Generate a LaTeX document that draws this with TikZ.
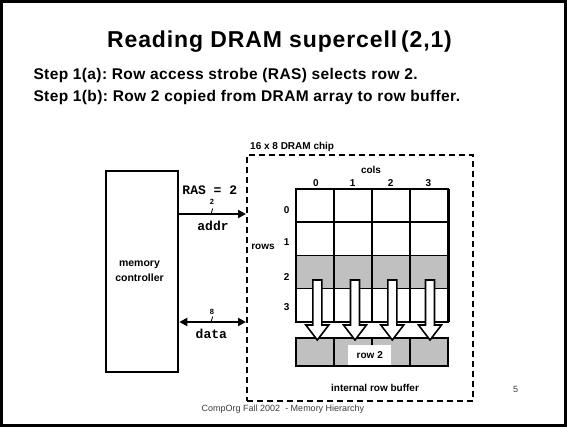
\documentclass[tikz,border=0pt]{standalone}
\usepackage{fontspec}
\setmainfont{Liberation Sans}
\newfontfamily\monof{Liberation Mono}
\newfontfamily\titlef{Liberation Sans}[LetterSpace=3.8]
\newfontfamily\stepf{Liberation Sans}[LetterSpace=2.5]
\usetikzlibrary{arrows.meta}
\definecolor{cellgray}{RGB}{192,192,192}
\definecolor{footgray}{RGB}{60,60,60}
\frenchspacing
\begin{document}
\begin{tikzpicture}[x=1pt,y=-1pt,
  lbl/.style={font=\fontsize{10}{12}\selectfont\bfseries, inner sep=0pt},
  monolbl/.style={font=\fontsize{13}{15}\selectfont\monof\bfseries, inner sep=0pt},
  tiny/.style={font=\fontsize{7.5}{8}\selectfont\bfseries, inner sep=0pt},
  steptext/.style={anchor=base west, inner sep=0pt, font=\fontsize{15.5}{18}\selectfont\stepf\bfseries},
  cell/.style={draw, line width=1.5pt, minimum width=38pt, minimum height=33.25pt, inner sep=0pt, outer sep=0pt},
  bufcell/.style={draw, line width=1.5pt, minimum width=38pt, minimum height=28pt, inner sep=0pt, outer sep=0pt, fill=cellgray},
  bus/.style={line width=2pt, -{Triangle[length=8pt,width=8pt]}},
  bibus/.style={line width=2pt, {Triangle[length=8pt,width=8pt]}-{Triangle[length=8pt,width=8pt]}},
  hollow/.style={line width=1.6pt, fill=white, line join=miter},
]
\useasboundingbox (0,0) rectangle (567,427);
\draw[line width=2.6pt] (1.6,1.8) rectangle (565.5,425.5);

% title and steps
\node[anchor=base, inner sep=0pt, font=\fontsize{23}{26}\selectfont\titlef\bfseries] (title) at (279.5,47.3) {Reading DRAM supercell\,(2,1)};
\node[steptext] (stepa) at (33.3,80) {Step 1(a): Row access strobe (RAS) selects row 2.};
\node[steptext] (stepb) at (33.3,101.3) {Step 1(b): Row 2 copied from DRAM array to row buffer.};

% memory controller
\node[draw, line width=2pt, minimum width=72.6pt, minimum height=201pt, inner sep=0pt] (ctrl) at (142,271.5) {};
\node[lbl, align=center, font=\fontsize{10.5}{15}\selectfont\bfseries] (ctrltext) at (139.5,271.5) {memory\\controller};

% chip
\node[draw, line width=2pt, dash pattern=on 6pt off 4pt, minimum width=226pt, minimum height=246pt, inner sep=0pt] (chip) at (360,278) {};
\node[lbl, anchor=base west] (chiplbl) at (250,150) {16 x 8 DRAM chip};

% grid cells
\foreach \r in {0,1,2,3}{
  \foreach \c in {0,1,2,3}{
    \pgfmathsetmacro{\cx}{315+38*\c}
    \pgfmathsetmacro{\cy}{205.6+33.25*\r}
    \ifnum\r=2
      \node[cell, fill=cellgray] (c\r\c) at (\cx,\cy) {};
    \else
      \node[cell] (c\r\c) at (\cx,\cy) {};
    \fi
  }
}
\draw[line width=3pt] (c03.north east) -- (c33.south east);

% labels of grid
\node[lbl] (cols) at (371,170) {cols};
\node[lbl] (k0) at (316,183) {0};
\node[lbl] (k1) at (352.7,183) {1};
\node[lbl] (k2) at (390.7,183) {2};
\node[lbl] (k3) at (428.3,183) {3};
\node[lbl] (r0) at (286.7,210) {0};
\node[lbl] (r1) at (286.7,241.7) {1};
\node[lbl] (r2) at (286.7,276.7) {2};
\node[lbl] (r3) at (286.7,306.7) {3};
\node[lbl] (rows) at (263,247.3) {rows};

% row buffer
\foreach \c in {0,1,2,3}{
  \pgfmathsetmacro{\cx}{315+38*\c}
  \node[bufcell] (b\c) at (\cx,352) {};
}
\node[fill=white, minimum width=43pt, minimum height=20pt, inner sep=0pt, font=\fontsize{10}{12}\selectfont\bfseries] (row2) at (369.8,355) {row 2};
\node[lbl] (bufl) at (375,387.7) {internal row buffer};

% hollow arrows
\foreach \x in {317.3,355,392.3,430}{
  \draw[hollow] (\x-4.5,280) -- (\x+4.5,280) -- (\x+4.5,325) -- (\x+11.5,325) -- (\x,340) -- (\x-11.5,325) -- (\x-4.5,325) -- cycle;
}

% buses
\coordinate (addry) at (0,214);
\coordinate (datay) at (0,322);
\draw[bus] (ctrl.east |- addry) -- (chip.west |- addry);
\draw[bibus] (ctrl.east |- datay) -- (chip.west |- datay);
\draw[line width=0.8pt] (210.7,215) -- (212.7,208.5);
\draw[line width=0.8pt] (210.7,323) -- (212.7,316.5);
\node[monolbl] (ras) at (209.8,190) {RAS = 2};
\node[tiny] (w2) at (212,201.7) {2};
\node[monolbl] (addr) at (213,225.7) {addr};
\node[tiny] (w8) at (212,311.7) {8};
\node[monolbl] (data) at (211.3,334) {data};

% footer
\node[inner sep=0pt, font=\fontsize{9}{11}\selectfont, text=footgray] (foot) at (283,409) {CompOrg Fall 2002\ \ - Memory Hierarchy};
\node[inner sep=0pt, font=\fontsize{9}{11}\selectfont, text=footgray] (pnum) at (515.7,389) {5};
\end{tikzpicture}
\end{document}
